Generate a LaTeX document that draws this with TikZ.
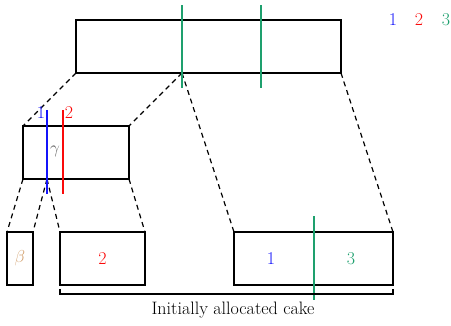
\documentclass[tikz,border=0pt]{standalone}
\usepackage{xcolor}
\definecolor{pblue}{RGB}{20,20,250}
\definecolor{pred}{RGB}{250,10,10}
\definecolor{pgreen}{RGB}{30,160,110}
\definecolor{ptan}{RGB}{210,160,110}
\definecolor{pgray}{RGB}{100,100,100}
\begin{document}
\begin{tikzpicture}[x=1pt,y=-1pt,
  box/.style={draw=black,line width=1.3pt,inner sep=0pt,outer sep=0pt},
  conn/.style={line width=1.2pt,dash pattern=on 5pt off 4pt},
  cut/.style={line width=1.6pt},
  lbl/.style={font=\fontsize{18}{21}\selectfont,inner sep=0pt}]
\useasboundingbox (0,0) rectangle (451,325);
% rectangles
\node[box,minimum width=265pt,minimum height=53pt] (top) at (208.5,46.5) {};
\node[box,minimum width=106pt,minimum height=53pt] (mid) at (76,152.5) {};
\node[box,minimum width=26pt,minimum height=53pt] (bb) at (20,258.5) {};
\node[box,minimum width=85pt,minimum height=53pt] (b2) at (102.5,258.5) {};
\node[box,minimum width=159pt,minimum height=53pt] (b13) at (313.5,258.5) {};
% split coordinates
\coordinate (ts) at (182,73);
\coordinate (ms) at (47,179);
% connectors
\draw[conn] (top.south west) -- (mid.north west);
\draw[conn] (ts) -- (mid.north east);
\draw[conn] (ts) -- (b13.north west);
\draw[conn] (top.south east) -- (b13.north east);
\draw[conn] (mid.south west) -- (bb.north west);
\draw[conn] (ms) -- (bb.north east);
\draw[conn] (ms) -- (b2.north west);
\draw[conn] (mid.south east) -- (b2.north east);
% cuts
\coordinate (g1a) at (182,5); \coordinate (g1b) at (182,88);
\coordinate (g2a) at (261,5); \coordinate (g2b) at (261,88);
\draw[cut,pgreen] (g1a) -- (g1b);
\draw[cut,pgreen] (g2a) -- (g2b);
\coordinate (bla) at (47,110); \coordinate (blb) at (47,194);
\coordinate (rea) at (63,110); \coordinate (reb) at (63,194);
\draw[cut,pblue] (bla) -- (blb);
\draw[cut,pred] (rea) -- (reb);
\coordinate (g3a) at (314,216); \coordinate (g3b) at (314,300);
\draw[cut,pgreen] (g3a) -- (g3b);
% labels
\node[lbl,pblue] (l1) at (393,20) {1};
\node[lbl,pred] (l2) at (419,20) {2};
\node[lbl,pgreen] (l3) at (446,20) {3};
\node[lbl,pblue] (m1) at (41,113) {1};
\node[lbl,pred] (m2) at (69,113) {2};
\node[lbl,pgray] (gam) at (55,151) {$\gamma$};
\node[lbl,ptan] (bet) at (bb) {$\beta$};
\node[lbl,pred] at (b2) {2};
\node[lbl,pblue] (r1) at (271,259) {1};
\node[lbl,pgreen] (r3) at (351,259) {3};
% bracket
\coordinate (bra) at (60,289);
\coordinate (brb) at (393,289);
\draw[line width=1.2pt] (bra) -- ++(0,5) -| (brb);
\node[lbl] (cake) at (233,310) {Initially allocated cake};
\end{tikzpicture}
\end{document}
